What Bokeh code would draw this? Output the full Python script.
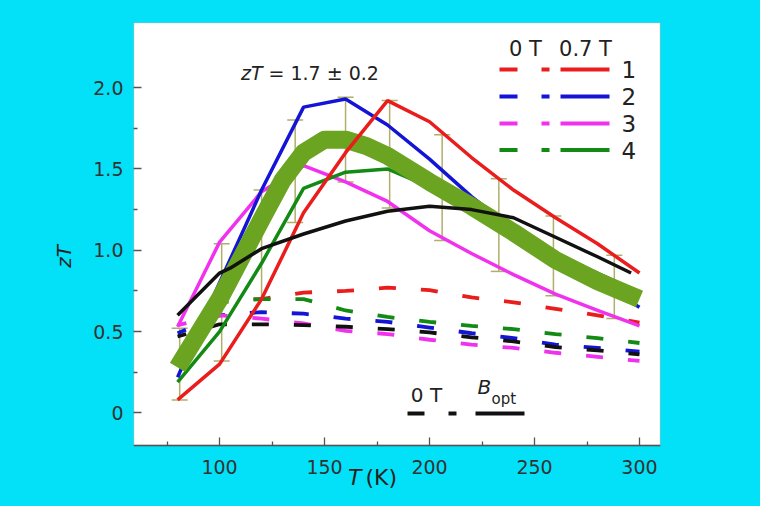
from bokeh.plotting import figure
from bokeh.models import (Range1d, FixedTicker, Whisker, TeeHead, ColumnDataSource, Label,
                          LinearAxis, BoxAnnotation)
from bokeh.embed import file_html
from bokeh.resources import INLINE

# ---------------- data ----------------
T = [80, 100, 120, 140, 160, 180, 200, 220, 240, 260, 280, 300]

# 0.7 T (solid)
s1_red = [0.08, 0.30, 0.70, 1.23, 1.60, 1.92, 1.79, 1.57, 1.37, 1.20, 1.04, 0.86]
s2_blue = [0.22, 0.80, 1.37, 1.88, 1.93, 1.77, 1.56, 1.33, 1.13, 0.96, 0.80, 0.65]
s3_magenta = [0.53, 1.05, 1.36, 1.52, 1.42, 1.30, 1.12, 0.98, 0.85, 0.73, 0.63, 0.535]
s4_green = [0.19, 0.50, 0.92, 1.38, 1.48, 1.50, 1.39, 1.24, 1.10, 0.98, 0.86, 0.74]

# B_opt (solid black)
bopt_T = [80, 100, 105, 120, 140, 160, 180, 200, 220, 240, 260, 280, 296]
bopt_zT = [0.60, 0.86, 0.89, 1.01, 1.10, 1.18, 1.24, 1.27, 1.25, 1.20, 1.08, 0.96, 0.86]

# 0 T (dashed)
T_d = [100, 120, 140, 160, 180, 200, 220, 240, 260, 280, 300]
d1_red = [0.70, 0.70, 0.74, 0.75, 0.77, 0.755, 0.71, 0.68, 0.64, 0.60, 0.555]
d4_green = [0.68, 0.70, 0.70, 0.63, 0.59, 0.56, 0.535, 0.515, 0.485, 0.46, 0.43]
d2_blue = [0.49, 0.60, 0.62, 0.61, 0.58, 0.56, 0.525, 0.49, 0.46, 0.42, 0.40, 0.377]
d3_magenta = [0.54, 0.60, 0.58, 0.55, 0.505, 0.485, 0.45, 0.42, 0.40, 0.37, 0.345, 0.32]
d_black = [0.47, 0.545, 0.545, 0.54, 0.53, 0.515, 0.495, 0.465, 0.44, 0.405, 0.385, 0.36]

# average zT band
avg_T = [80, 100, 120, 130, 140, 150, 160, 170, 180, 200, 220, 240, 260, 280, 300]
avg_zT = [0.28, 0.70, 1.19, 1.43, 1.60, 1.68, 1.68, 1.64, 1.58, 1.42, 1.27, 1.11, 0.94, 0.81, 0.70]

# error bars
eb_T = [81, 101, 120, 136, 160, 181, 206, 233, 259, 288]
eb_upper = [0.52, 1.04, 1.37, 1.80, 1.94, 1.92, 1.71, 1.44, 1.21, 0.97]
eb_lower = [0.08, 0.32, 0.70, 1.17, 1.42, 1.26, 1.06, 0.87, 0.72, 0.58]

x_major = [100, 150, 200, 250, 300]
x_minor = [75, 125, 175, 225, 275]
y_major = [0, 0.5, 1.0, 1.5, 2.0]
y_minor = [0.25, 0.75, 1.25, 1.75]
y_labels = {0: "0", 0.5: "0.5", 1: "1.0", 1.5: "1.5", 2: "2.0"}

# ---------------- styles / layout ----------------
BG = "#02E1F8"
RED = "#ea1c1c"
BLUE = "#1414d6"
MAG = "#f032ee"
GRN = "#128a14"
BLK = "#111111"
BAND = "#6aa420"
EBAR = "#b0ae68"
AXC = "#555555"
FONT = "DejaVu Sans"
DASH = "17 25"

W, H = 744, 490
XR = (59, 310)            # x extent of the white plot box
YR = (-0.2, 2.4)          # y extent of the white plot box
FL, FR, FT, FB = 133, 660, 22, 445   # white box edges in pixels
y_frame_lo = YR[0] - (H - FB) * (YR[1] - YR[0]) / (FB - FT)

p = figure(width=W, height=H, x_range=Range1d(*XR), y_range=Range1d(y_frame_lo, YR[1]),
           output_backend="svg", toolbar_location=None,
           min_border_left=FL, min_border_right=W - FR, min_border_top=FT, min_border_bottom=0,
           x_axis_location=None)
p.background_fill_color = BG
p.border_fill_color = BG
p.outline_line_color = None
p.xgrid.visible = False
p.ygrid.visible = False

def dx(px):
    return XR[0] + (px - FL) * (XR[1] - XR[0]) / (FR - FL)
def dy(py):
    return YR[1] - (py - FT) * (YR[1] - YR[0]) / (FB - FT)

# white plot box with border
p.add_layout(BoxAnnotation(left=XR[0], right=XR[1], bottom=YR[0], top=YR[1],
                           fill_color="white", fill_alpha=1.0,
                           line_color=AXC, line_width=1.5, level="underlay"))

xaxis = LinearAxis(fixed_location=YR[0])
p.add_layout(xaxis, "below")

for ax in (xaxis, p.yaxis[0]):
    ax.major_tick_in = 8
    ax.major_tick_out = 0
    ax.minor_tick_in = 4
    ax.minor_tick_out = 0
    ax.major_tick_line_color = AXC
    ax.minor_tick_line_color = AXC
    ax.major_tick_line_width = 1.3
    ax.minor_tick_line_width = 1.3
    ax.major_label_text_font = FONT
    ax.major_label_text_font_size = "19px"
    ax.major_label_text_color = "#333333"

xaxis.axis_line_color = AXC
xaxis.axis_line_width = 1.5
xaxis.ticker = FixedTicker(ticks=x_major, minor_ticks=x_minor)
xaxis.major_label_standoff = 14

p.yaxis.axis_line_color = None
p.yaxis.ticker = FixedTicker(ticks=y_major, minor_ticks=y_minor)
p.yaxis.major_label_overrides = y_labels
p.yaxis.major_label_standoff = 10
p.yaxis.axis_label = "zT"
p.yaxis.axis_label_text_font = FONT
p.yaxis.axis_label_text_font_style = "italic"
p.yaxis.axis_label_text_font_size = "20px"
p.yaxis.axis_label_text_color = "#222222"
p.yaxis.axis_label_standoff = 14

# dashed 0 T lines
for xs, ys, c in [(T_d, d1_red, RED), (T_d, d4_green, GRN), (T, d2_blue, BLUE),
                  (T, d3_magenta, MAG), (T, d_black, BLK)]:
    p.line(xs, ys, line_color=c, line_width=3.8, line_dash=DASH, line_dash_offset=8)

# solid lines under the band
p.line(T, s3_magenta, line_color=MAG, line_width=3.5)
p.line(T, s4_green, line_color=GRN, line_width=3.5)
p.line(T, s2_blue, line_color=BLUE, line_width=3.5)

# average band
p.line(avg_T, avg_zT, line_color=BAND, line_width=18, line_join="round")

p.line(T, s1_red, line_color=RED, line_width=3.5)
p.line(bopt_T, bopt_zT, line_color=BLK, line_width=3.5)

# error bars
src = ColumnDataSource(dict(x=eb_T, upper=eb_upper, lower=eb_lower))
p.add_layout(Whisker(base="x", upper="upper", lower="lower", source=src,
                     line_color=EBAR, line_width=1.5,
                     upper_head=TeeHead(size=16, line_color=EBAR, line_width=1.5),
                     lower_head=TeeHead(size=16, line_color=EBAR, line_width=1.5)))

def label(px, py, text, size, align="left", style="normal", color="#222222"):
    p.add_layout(Label(x=dx(px), y=dy(py), text=text, text_font=FONT,
                       text_font_size=f"{size}px", text_font_style=style,
                       text_align=align, text_baseline="middle", text_color=color))

# zT annotation
label(262, 72, "zT", 19, align="right", style="italic")
label(268, 72, "= 1.7 \u00b1 0.2", 19)

# x axis label T (K)
label(361, 477, "T", 22, align="right", style="italic")
label(365, 477, "(K)", 22)

# top-right legend
label(525, 48, "0 T", 21, align="center")
label(585, 48, "0.7 T", 21, align="center")
rows_y = [69, 96, 123, 149.5]
for yy, c, n in zip(rows_y, [RED, BLUE, MAG, GRN], ["1", "2", "3", "4"]):
    for a, b in [(499, 517), (541, 549), (560, 609)]:
        p.segment(x0=dx(a), y0=dy(yy), x1=dx(b), y1=dy(yy), line_color=c, line_width=4)
    label(621, yy, n, 23)

# bottom legend
label(426, 394, "0 T", 20, align="center")
label(477, 386, "B", 20, style="italic")
label(491, 398, "opt", 15)
for a, b in [(407, 424), (448, 456), (475, 524)]:
    p.segment(x0=dx(a), y0=dy(413), x1=dx(b), y1=dy(413), line_color=BLK, line_width=4)

html = file_html(p, INLINE, title="zT vs T")
html = html.replace("</head>", "<style>html,body{background:%s;}</style></head>" % BG, 1)
open("out.html", "w").write(html)
